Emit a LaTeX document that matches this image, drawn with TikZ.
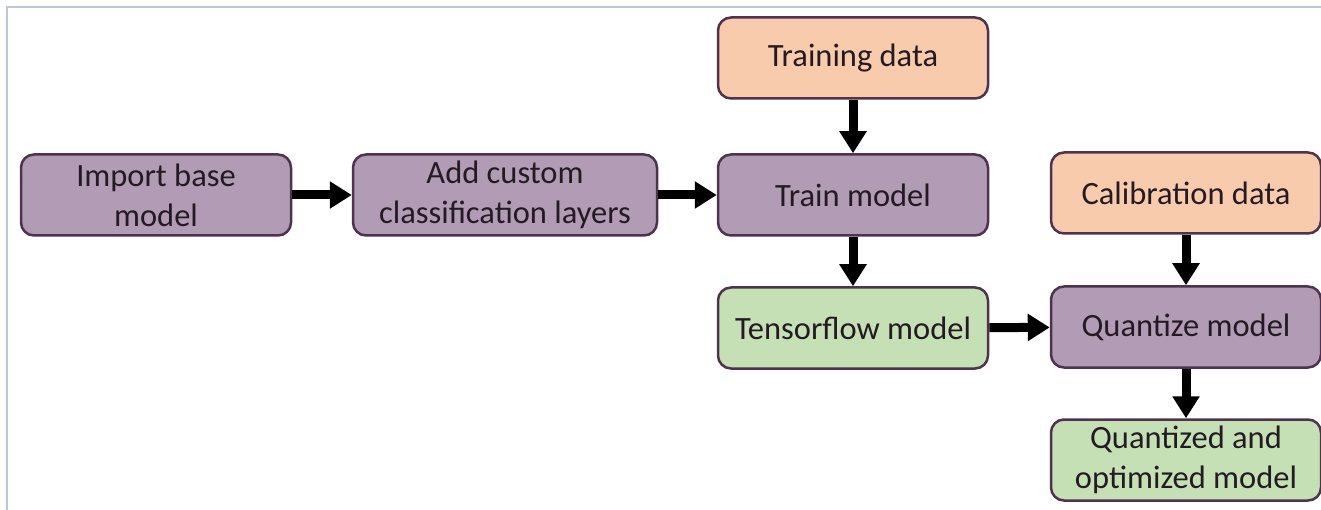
\documentclass[tikz,border=0pt]{standalone}
\usepackage{fontspec}
\setmainfont{Carlito}
\usetikzlibrary{arrows.meta}
\definecolor{framecol}{HTML}{B7C9DB}
\definecolor{stepfill}{HTML}{B29BB4}
\definecolor{datafill}{HTML}{F8CBAD}
\definecolor{modelfill}{HTML}{C5E0B4}
\definecolor{edgecol}{HTML}{4E324E}
\definecolor{txtcol}{HTML}{231A23}
\tikzset{
  x=1pt, y=-1pt,
  box/.style={draw=edgecol, line width=2.5pt, rounded corners=13pt,
    minimum width=270pt, minimum height=81pt, inner sep=0pt,
    align=center, text=txtcol,
    font=\fontsize{32.5}{40}\selectfont},
  stepbox/.style={box, fill=stepfill},
  databox/.style={box, fill=datafill},
  modelbox/.style={box, fill=modelfill},
  flow/.style={line width=9pt, -{Triangle[length=22pt,width=26pt]}, black}
}
\begin{document}
\begin{tikzpicture}
\useasboundingbox (0,0) rectangle (1321,510);
% thin frame along the top and left edges
\draw[framecol, line width=2pt] (7,510) -- (7,7) -- (1321,7);

\node[stepbox] (import) at (156,195) {Import base\\model};
\node[stepbox, minimum width=304pt] (custom) at (505,195) {Add custom\\classification layers};
\node[databox] (traindata) at (853,58) {Training data};
\node[stepbox] (train) at (853,195) {Train model};
\node[modelbox] (tf) at (853,328) {Tensorflow model};
\node[databox] (calib) at (1186,193) {Calibration data};
\node[stepbox] (quant) at (1186,327) {Quantize model};
\node[modelbox] (final) at (1186,460) {Quantized and\\optimized model};

\draw[flow] (import) -- (custom);
\draw[flow] (custom) -- (train);
\draw[flow] (traindata) -- (train);
\draw[flow] (train) -- (tf);
\draw[flow] (tf) -- (quant);
\draw[flow] (calib) -- (quant);
\draw[flow] (quant) -- (final);
\end{tikzpicture}
\end{document}
